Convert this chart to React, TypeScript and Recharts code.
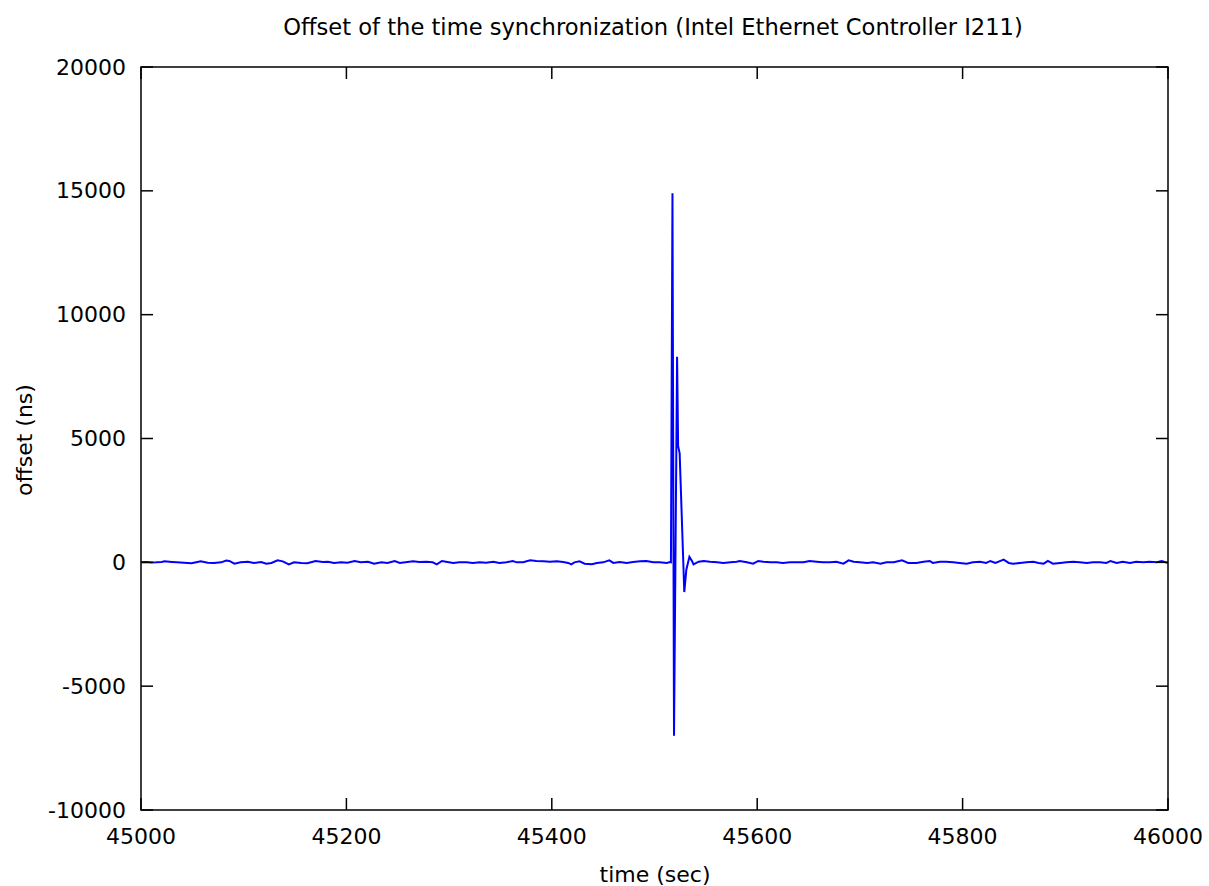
import React from "react";
import { LineChart, Line, XAxis, YAxis, ReferenceArea } from "recharts";

const TITLE = "Offset of the time synchronization (Intel Ethernet Controller I211)";
const X_LABEL = "time (sec)";
const Y_LABEL = "offset (ns)";

const xTicks = [45000, 45200, 45400, 45600, 45800, 46000];
const yTicks = [-10000, -5000, 0, 5000, 10000, 15000, 20000];

// before the disturbance
const timesBefore = [
  45000, 45005, 45010, 45015, 45020, 45023, 45030, 45035, 45042, 45049, 45055, 45058, 45065, 45071, 45078,
  45083, 45086, 45091, 45097, 45104, 45110, 45117, 45122, 45127, 45133, 45138, 45144, 45149, 45156, 45162,
  45170, 45177, 45182, 45188, 45195, 45201, 45208, 45214, 45221, 45227, 45234, 45240, 45247, 45252,
  45265, 45271, 45278, 45284, 45288, 45293, 45297, 45304, 45310, 45317, 45323, 45330, 45336, 45343, 45349,
  45356, 45362, 45366, 45372, 45379, 45385, 45392, 45398, 45405, 45411, 45416, 45419, 45422, 45427, 45432,
  45439, 45444, 45450, 45456, 45460, 45466, 45473, 45479, 45486, 45492, 45499, 45505, 45512, 45515,
];
const offsetsBefore = [
  0, 10, -5, 0, 10, 40, 15, 0, -20, -40, 15, 40, -15, -25, 0,
  70, 55, -55, 0, 25, -25, 15, -55, -25, 80, 40, -80, 0, -25, -40,
  55, 15, 25, -25, 0, -15, 55, 0, 25, -55, 0, -25, 55, -25,
  40, 15, 25, 0, -80, 55, 25, -25, 0, 0, -25, 0, -15, 25, -25,
  0, 55, 0, 0, 80, 55, 40, 25, 40, 15, -25, -80, 0, 40, -55,
  -80, -25, 0, 80, -25, 15, -25, 15, 40, 55, 0, 0, -25, 10,
];

// the disturbance
const timesSpike = [45516, 45517.5, 45519, 45522, 45523, 45524.5, 45529, 45531, 45534, 45536.5, 45538];
const offsetsSpike = [0, 14900, -7000, 8300, 4700, 4400, -1200, -300, 220, 50, -80];

// after the disturbance
const timesAfter = [
  45543, 45548, 45554, 45561, 45567, 45574, 45580, 45583, 45590, 45596, 45601, 45606, 45613, 45619, 45625,
  45632, 45638, 45645, 45651, 45658, 45664, 45671, 45677, 45684, 45689, 45694, 45700, 45707, 45713, 45720,
  45726, 45733, 45741, 45747, 45755, 45762, 45768, 45771, 45778, 45784, 45791, 45797, 45804, 45810, 45817,
  45823, 45827, 45832, 45840, 45845, 45849, 45856, 45862, 45869, 45874, 45879, 45883, 45888, 45895, 45901,
  45908, 45914, 45921, 45927, 45934, 45940, 45944, 45950, 45956, 45963, 45969, 45976, 45982, 45989, 45994,
  46000,
];
const offsetsAfter = [
  25, 55, 25, 0, -25, 0, 25, 55, 0, -55, 55, 25, 0, 0, -25,
  0, 0, 0, 55, 25, 0, 0, 25, -55, 80, 25, 0, -25, 0, -55,
  0, 0, 80, -25, -25, 25, 55, -25, 25, 25, 0, -25, -55, 0, 25,
  -25, 55, -25, 110, -25, -55, -25, 0, 25, -25, -55, 55, -55, -25, 0,
  25, 0, -25, 0, 0, -25, 55, -25, 25, -25, 25, 0, 25, 0, 55,
  -25,
];

const times = [...timesBefore, ...timesSpike, ...timesAfter];
const offsets = [...offsetsBefore, ...offsetsSpike, ...offsetsAfter];
const data = times.map((t, i) => ({ t, v: offsets[i] }));

const W = 1209;
const H = 886;
const PL = 141;
const PR = 1168;
const PT = 67;
const PB = 810;
const TICK = 12;
const FONT = "'DejaVu Sans', sans-serif";

const YTick = (props: any) => {
  const y = props.y;
  return (
    <g>
      <line x1={PL} x2={PL + TICK} y1={y} y2={y} stroke="#000" strokeWidth={1.5} />
      <line x1={PR - TICK} x2={PR} y1={y} y2={y} stroke="#000" strokeWidth={1.5} />
      <text x={126} y={y} textAnchor="end" dominantBaseline="central" fontSize={22} fontFamily={FONT} fill="#000">
        {props.payload.value}
      </text>
    </g>
  );
};

const XTick = (props: any) => {
  const x = props.x;
  return (
    <g>
      <line x1={x} x2={x} y1={PB} y2={PB - TICK} stroke="#000" strokeWidth={1.5} />
      <line x1={x} x2={x} y1={PT} y2={PT + TICK} stroke="#000" strokeWidth={1.5} />
      <text x={x} y={836} textAnchor="middle" dominantBaseline="central" fontSize={22} fontFamily={FONT} fill="#000">
        {props.payload.value}
      </text>
    </g>
  );
};

export default function App() {
  return (
    <div style={{ position: "absolute", left: 0, top: 0, width: W, height: H, background: "#fff", fontFamily: FONT }}>
      <LineChart
        width={W}
        height={H}
        data={data}
        margin={{ top: PT, right: W - PR, bottom: 0, left: 0 }}
      >
        <XAxis
          dataKey="t"
          type="number"
          domain={[45000, 46000]}
          ticks={xTicks}
          allowDataOverflow
          height={H - PB}
          tickLine={false}
          axisLine={false}
          tick={XTick}
          interval={0}
        />
        <YAxis
          type="number"
          domain={[-10000, 20000]}
          ticks={yTicks}
          allowDataOverflow
          width={PL}
          tickLine={false}
          axisLine={false}
          tick={YTick}
          interval={0}
        />
        <Line
          type="linear"
          dataKey="v"
          stroke="#0000ff"
          strokeWidth={2}
          dot={false}
          isAnimationActive={false}
        />
        <ReferenceArea
          x1={45000}
          x2={46000}
          y1={-10000}
          y2={20000}
          fill="none"
          fillOpacity={0}
          stroke="#000"
          strokeWidth={1.5}
        />
      </LineChart>
      <div
        style={{
          position: "absolute",
          left: 0,
          width: 1306,
          top: 12,
          textAlign: "center",
          fontSize: 22.6,
          lineHeight: "30px",
          color: "#000",
        }}
      >
        {TITLE}
      </div>
      <div
        style={{
          position: "absolute",
          left: 0,
          width: 1310,
          top: 860,
          textAlign: "center",
          fontSize: 22,
          lineHeight: "30px",
          color: "#000",
        }}
      >
        {X_LABEL}
      </div>
      <div
        style={{
          position: "absolute",
          left: 25,
          top: 440,
          transform: "translate(-50%, -50%) rotate(-90deg)",
          fontSize: 22,
          lineHeight: "30px",
          whiteSpace: "nowrap",
          color: "#000",
        }}
      >
        {Y_LABEL}
      </div>
    </div>
  );
}
